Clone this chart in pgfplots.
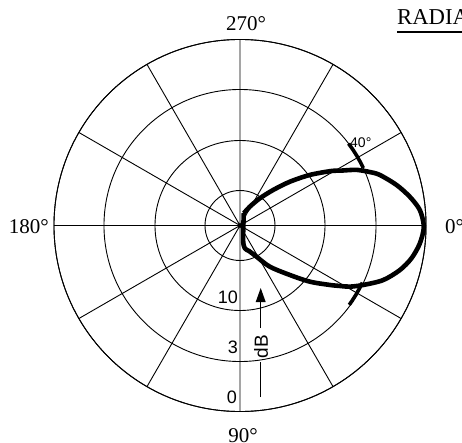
\documentclass[border=0pt]{standalone}
\usepackage{fontspec}
\setmainfont{Liberation Serif}
\newfontfamily\sansf{Liberation Sans}
\usepackage{pgfplots}
\usepackage{pgfplotstable}
\usepgfplotslibrary{polar}
\pgfplotsset{compat=1.18}

% Pattern: angle in the chart's convention
% (0 deg at right, growing clockwise, 90 deg at bottom), radius in plot units
\pgfplotstableread{
a r
-72.7 12.8
-62.5 21.2
-53.9 33.6
-47.0 48.5
-41.3 66.3
-35.9 86.2
-30.9 106
-28.5 115
-26.8 123
-25.3 130
-22.5 140
-19.9 148.6
-14.5 161.7
-9.6 172.2
-4.9 180.5
0.4 183.8
5.7 180.7
10.8 174.6
15.6 165.9
20.9 153.1
25.8 136.7
29.1 125.7
31.2 116.7
33.5 107.7
38.8 89.6
44.8 70.2
54.1 50.8
62.1 35.3
70.5 27
78.1 23.3
77.9 14.8
-72.7 12.8
}\tblpat

\pgfplotstableread{
a r
-37 136
-34 136
-31 136
-28 136
-25 136
}\tblup

\pgfplotstableread{
a r
25 135
28 135
31 135
34 135
36 135
}\tbldown

\begin{document}
\begin{tikzpicture}[x=1pt,y=1pt]
\useasboundingbox (0,0) rectangle (462,442);
\begin{polaraxis}[
  at={(240pt,216.5pt)}, anchor=center,
  scale only axis, width=372pt, height=372pt,
  ymin=0, ymax=186,
  xtick={0,30,...,330},
  ytick={35,85,136,186},
  xticklabels={}, yticklabels={},
  major tick length=0pt,
  grid=major,
  grid style={black, line width=0.9pt},
  axis line style={black, line width=0.9pt},
  clip=false,
]
\addplot[black, line width=4.6pt, line join=round, smooth, tension=0.5]
  table[x expr=-\thisrow{a}, y=r] {\tblpat};
\addplot[black, line width=3.6pt] table[x expr=-\thisrow{a}, y=r] {\tblup};
\addplot[black, line width=3.6pt] table[x expr=-\thisrow{a}, y=r] {\tbldown};
\end{polaraxis}

\begin{scope}[every node/.style={inner sep=0pt}]
\node[font=\fontsize{21}{21}\selectfont, anchor=base] at (246,411) {270°};
\node[font=\fontsize{21}{21}\selectfont, anchor=base east] at (49,209) {180°};
\node[font=\fontsize{21}{21}\selectfont, anchor=base west] at (445,209) {0°};
\node[font=\fontsize{21}{21}\selectfont, anchor=base] at (243,0) {90°};
\node[font=\fontsize{22.7}{23}\selectfont, anchor=base west] at (397,417) {RADIATION PATTERN};
\draw[line width=2pt] (397,410) -- (700,410);
\node[font=\sansf\fontsize{18}{18}\selectfont, anchor=base east] at (238,139) {10};
\node[font=\sansf\fontsize{18}{18}\selectfont, anchor=base east] at (238,89) {3};
\node[font=\sansf\fontsize{18}{18}\selectfont, anchor=base east] at (237,39) {0};
\node[font=\sansf\fontsize{14}{14}\selectfont, anchor=base west] at (350,294) {40°};
\draw[line width=0.8pt] (260.7,45) -- (260.7,80);
\node[font=\sansf\fontsize{19}{19}\selectfont, rotate=90, anchor=center] at (261,95.5) {dB};
\draw[line width=0.8pt] (260.7,114) -- (260.7,140);
\fill (255.7,140) -- (265.7,140) -- (260.7,154) -- cycle;
\end{scope}
\end{tikzpicture}
\end{document}
